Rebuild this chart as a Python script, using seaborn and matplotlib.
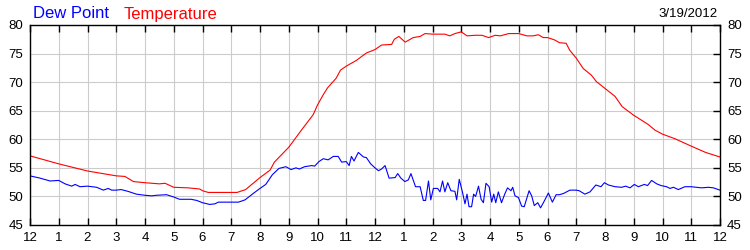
import matplotlib
matplotlib.use("Agg")
import matplotlib.pyplot as plt
import seaborn as sns
import pandas as pd

# ---- data (hours since midnight, degrees F) ----
temp_hours = [0, 1, 2, 3, 3.3, 3.6, 4, 4.5, 4.7, 5, 5.5, 5.9, 6, 6.2, 7.2, 7.5, 8, 8.35, 8.5, 9,
              9.5, 9.85, 10, 10.2, 10.35, 10.65, 10.8, 11, 11.35, 11.7, 12, 12.23, 12.58, 12.67,
              12.83, 13.05, 13.33, 13.57, 13.74, 14, 14.43, 14.6, 14.78, 15, 15.2, 15.48, 15.72,
              15.95, 16.18, 16.36, 16.65, 17, 17.28, 17.5, 17.68, 17.85, 18, 18.24, 18.42, 18.65,
              18.77, 19, 19.24, 19.53, 19.7, 20, 20.35, 20.6, 21, 21.5, 21.74, 22, 22.43, 23,
              23.5, 24]
temp_values = [57.1, 55.7, 54.45, 53.6, 53.5, 52.6, 52.4, 52.2, 52.3, 51.6, 51.5, 51.3, 51.0, 50.7,
               50.7, 51.2, 53.3, 54.6, 56.0, 58.6, 62.0, 64.3, 66.0, 67.8, 69.0, 70.7, 72.1, 72.8,
               73.8, 75.1, 75.7, 76.5, 76.6, 77.5, 78.0, 77.0, 77.8, 78.0, 78.5, 78.4, 78.4, 78.1,
               78.5, 78.8, 78.1, 78.2, 78.2, 77.8, 78.2, 78.1, 78.5, 78.5, 78.1, 78.1, 78.3, 77.8,
               77.8, 77.4, 76.9, 76.8, 75.6, 74.2, 72.4, 71.2, 70.1, 68.9, 67.5, 65.7, 64.2, 62.6,
               61.6, 60.9, 60.1, 58.8, 57.7, 56.9]

dew_hours = [0, 0.35, 0.7, 1, 1.22, 1.45, 1.57, 1.74, 2, 2.32, 2.55, 2.72, 2.84, 3, 3.17, 3.4, 3.7,
             4, 4.23, 4.4, 4.75, 5, 5.2, 5.6, 5.8, 6, 6.25, 6.43, 6.55, 7, 7.25, 7.48, 7.76, 8,
             8.2, 8.43, 8.66, 8.9, 9.08, 9.25, 9.37, 9.55, 9.8, 9.9, 10.05, 10.2, 10.37, 10.55,
             10.72, 10.84, 11.0, 11.1, 11.18, 11.27, 11.42, 11.6, 11.7, 11.85, 12.0, 12.12, 12.23,
             12.35, 12.49, 12.7, 12.79, 12.9, 13.04, 13.16, 13.25, 13.41, 13.57, 13.68, 13.76,
             13.86, 13.94, 14.03, 14.18, 14.26, 14.35, 14.43, 14.53, 14.64, 14.78, 14.84, 14.93,
             15.04, 15.13, 15.2, 15.27, 15.36, 15.43, 15.5, 15.6, 15.69, 15.77, 15.86, 15.97,
             16.06, 16.13, 16.2, 16.29, 16.4, 16.52, 16.61, 16.73, 16.79, 16.87, 16.99, 17.1,
             17.19, 17.36, 17.45, 17.54, 17.66, 17.76, 17.91, 18.03, 18.17, 18.3, 18.41, 18.55,
             18.78, 19.0, 19.1, 19.3, 19.48, 19.68, 19.86, 19.98, 20.12, 20.35, 20.58, 20.72,
             20.87, 21.02, 21.16, 21.37, 21.48, 21.62, 21.8, 21.95, 22.14, 22.26, 22.38, 22.55,
             22.78, 23.0, 23.36, 23.6, 23.77, 24.0]
dew_values = [53.6, 53.2, 52.7, 52.8, 52.2, 51.8, 52.1, 51.7, 51.8, 51.6, 51.1, 51.4, 51.1, 51.1,
              51.2, 50.9, 50.4, 50.2, 50.1, 50.2, 50.3, 49.9, 49.5, 49.5, 49.3, 48.9, 48.6, 48.7,
              49.0, 49.0, 49.0, 49.4, 50.5, 51.4, 52.1, 53.8, 54.9, 55.2, 54.7, 55.0, 54.8, 55.2,
              55.4, 55.3, 56.1, 56.6, 56.4, 57.0, 57.0, 56.0, 56.1, 55.4, 57.0, 56.2, 57.7, 56.9,
              56.8, 55.7, 55.0, 54.5, 54.8, 55.4, 53.2, 53.3, 54.0, 53.2, 52.6, 52.9, 54.0, 51.7,
              51.7, 49.3, 49.3, 52.7, 49.4, 51.4, 51.4, 50.8, 52.7, 50.8, 52.4, 51.0, 50.9, 49.4,
              53.0, 50.8, 48.7, 50.4, 48.2, 48.2, 50.4, 50.0, 51.8, 49.5, 48.9, 52.3, 51.7, 49.0,
              50.4, 48.9, 50.8, 48.9, 50.5, 51.5, 51.0, 51.6, 50.1, 49.8, 48.3, 48.2, 51.0, 50.1,
              48.4, 48.9, 48.0, 49.4, 50.6, 49.0, 50.3, 50.3, 50.5, 51.1, 51.1, 51.0, 50.4, 50.8,
              52.0, 51.7, 52.4, 52.0, 51.7, 51.6, 51.8, 51.5, 52.1, 51.7, 52.1, 51.9, 52.8, 52.2,
              51.9, 51.7, 51.4, 51.6, 51.2, 51.7, 51.7, 51.5, 51.6, 51.5, 51.1]

hour_labels = ["12", "1", "2", "3", "4", "5", "6", "7", "8", "9", "10", "11",
               "12", "1", "2", "3", "4", "5", "6", "7", "8", "9", "10", "11", "12"]
y_ticks = [45, 50, 55, 60, 65, 70, 75, 80]
date_label = "3/19/2012"

df = pd.concat([
    pd.DataFrame({"hour": dew_hours, "value": dew_values, "series": "Dew Point"}),
    pd.DataFrame({"hour": temp_hours, "value": temp_values, "series": "Temperature"}),
], ignore_index=True)

sns.set_style("white")
plt.rcParams["font.family"] = ["Liberation Sans", "DejaVu Sans"]

fig = plt.figure(figsize=(7.5, 2.5), dpi=100)
ax = fig.add_axes([30 / 750, 25 / 250, 690 / 750, 200 / 250])

sns.lineplot(data=df, x="hour", y="value", hue="series",
             palette={"Dew Point": "#0000ff", "Temperature": "#ff0000"},
             estimator=None, sort=False, legend=False, linewidth=0.8, ax=ax)

ax.set_xlim(0, 24)
ax.set_ylim(45, 80)
ax.set_xticks(range(25))
ax.set_xticklabels(hour_labels)
ax.set_yticks(y_ticks)
ax.set_xlabel("")
ax.set_ylabel("")
ax.grid(True, color="#cccccc", linewidth=0.8)
ax.set_axisbelow(True)
for s in ax.spines.values():
    s.set_color("black")
    s.set_linewidth(1.0)
    s.set_visible(True)

ax.tick_params(axis="x", which="both", direction="in", length=5, width=1, color="black",
               top=True, bottom=True, labelsize=9.5, pad=5, labelcolor="black")
ax.tick_params(axis="y", which="both", direction="in", length=5, width=1, color="black",
               left=False, right=True, labelleft=True, labelright=True, labelsize=9.5, pad=5,
               labelcolor="black")
ax.tick_params(axis="y", which="both", left=True, length=0)
for t in ax.yaxis.get_major_ticks():
    t.tick1line.set_visible(False)
    t.tick2line.set_visible(True)
    t.tick2line.set_markersize(5)

fig.text(33 / 750, 1 - 18.5 / 250, "Dew Point", color="#0000ff", fontsize=12, va="baseline", ha="left")
fig.text(124 / 750, 1 - 18.5 / 250, "Temperature", color="#ff0000", fontsize=12, va="baseline", ha="left")
fig.text(718 / 750, 1 - 17 / 250, date_label, color="black", fontsize=9.5, va="baseline", ha="right")

fig.savefig("out.png", dpi=100)
